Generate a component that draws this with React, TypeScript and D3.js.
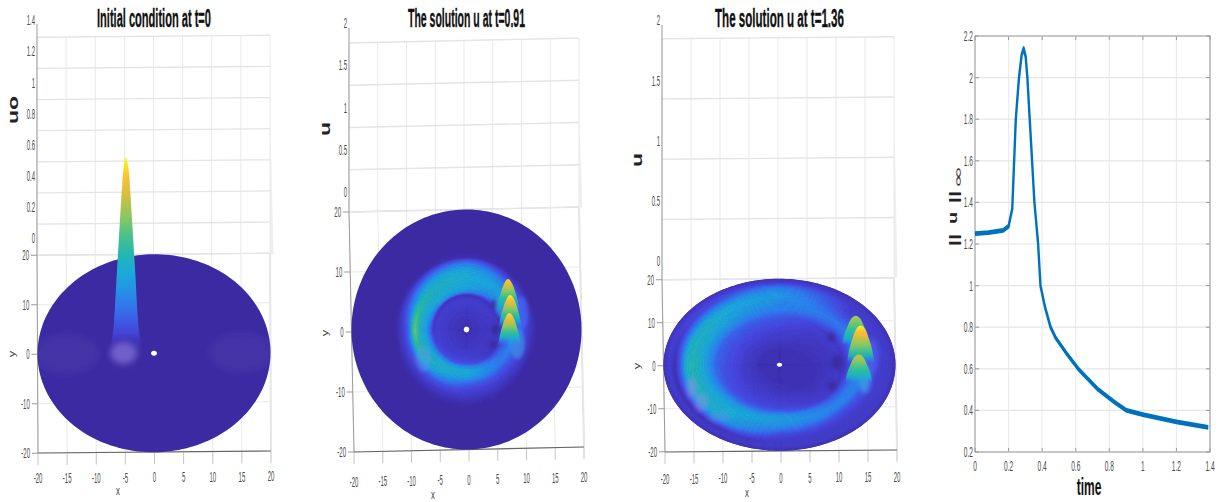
import React from "react";
import * as d3 from "d3";

// ---------- data ----------
const floorTicks = [-20, -15, -10, -5, 0, 5, 10, 15, 20];
const sideTicks = [-20, -10, 0, 10, 20];
const zTicks1 = [0, 0.2, 0.4, 0.6, 0.8, 1, 1.2, 1.4];
const zTicks23 = [0, 0.5, 1, 1.5, 2];

const timeValues = [0, 0.08, 0.167, 0.2, 0.222, 0.243, 0.262, 0.278, 0.29, 0.302, 0.312, 0.326, 0.34, 0.354, 0.376, 0.39, 0.416, 0.45, 0.48, 0.54, 0.615, 0.734, 0.83, 0.903, 1.0, 1.2, 1.39];
const normValues = [1.25, 1.255, 1.265, 1.285, 1.37, 1.8, 2.0, 2.11, 2.14, 2.1, 2.0, 1.8, 1.6, 1.4, 1.2, 1.0, 0.9, 0.8, 0.75, 0.68, 0.6, 0.5, 0.44, 0.4, 0.38, 0.345, 0.318];
const timeTicks = [0, 0.2, 0.4, 0.6, 0.8, 1, 1.2, 1.4];
const normTicks = [0.2, 0.4, 0.6, 0.8, 1, 1.2, 1.4, 1.6, 1.8, 2, 2.2];

const thetaStops = [0, 45, 90, 135, 180, 225, 270, 315];
const radii91 = [0, 3, 5, 5.8, 6.3, 7, 8, 9, 10, 11, 12, 13, 20];
const level91 = [
  [0.03, 0.03, 0.03, 0.03, 0.03, 0.03, 0.03, 0.03],
  [0.06, 0.06, 0.06, 0.06, 0.06, 0.06, 0.06, 0.06],
  [0.05, 0.08, 0.09, 0.09, 0.09, 0.1, 0.1, 0.06],
  [0.05, 0.04, 0.03, 0.04, 0.07, 0.14, 0.16, 0.06],
  [0.07, 0.15, 0.32, 0.34, 0.18, 0.3, 0.33, 0.14],
  [0.14, 0.3, 0.4, 0.43, 0.36, 0.44, 0.44, 0.24],
  [0.27, 0.36, 0.42, 0.46, 0.45, 0.47, 0.36, 0.26],
  [0.22, 0.36, 0.43, 0.48, 0.68, 0.38, 0.18, 0.16],
  [0.13, 0.26, 0.4, 0.38, 0.2, 0.17, 0.11, 0.09],
  [0.06, 0.1, 0.26, 0.18, 0.08, 0.08, 0.07, 0.05],
  [0.01, 0.01, 0.03, 0.02, 0.02, 0.03, 0.03, 0.01],
  [0, 0, 0, 0, 0, 0, 0, 0],
  [0, 0, 0, 0, 0, 0, 0, 0],
];
const radii136 = [0, 3, 6, 8, 10, 11, 12, 13, 14, 15, 16, 17, 18, 19, 20];
const level136 = [
  [0.03, 0.03, 0.03, 0.03, 0.03, 0.03, 0.03, 0.03],
  [0.03, 0.03, 0.03, 0.03, 0.03, 0.03, 0.03, 0.03],
  [0.04, 0.05, 0.07, 0.08, 0.08, 0.07, 0.05, 0.03],
  [0.05, 0.06, 0.1, 0.12, 0.12, 0.1, 0.08, 0.05],
  [0.07, 0.08, 0.14, 0.17, 0.16, 0.14, 0.12, 0.07],
  [0.05, 0.08, 0.17, 0.2, 0.2, 0.22, 0.2, 0.08],
  [0.12, 0.15, 0.22, 0.3, 0.3, 0.36, 0.36, 0.2],
  [0.24, 0.22, 0.27, 0.37, 0.4, 0.42, 0.38, 0.27],
  [0.32, 0.24, 0.3, 0.42, 0.47, 0.43, 0.32, 0.27],
  [0.22, 0.18, 0.33, 0.44, 0.5, 0.44, 0.24, 0.16],
  [0.16, 0.13, 0.35, 0.42, 0.48, 0.42, 0.14, 0.11],
  [0.09, 0.09, 0.33, 0.28, 0.18, 0.22, 0.09, 0.08],
  [0.08, 0.08, 0.25, 0.13, 0.03, 0.04, 0.07, 0.07],
  [0.07, 0.07, 0.09, 0.1, 0.09, 0.07, 0.07, 0.07],
  [0.04, 0.04, 0.04, 0.04, 0.04, 0.04, 0.04, 0.04],
];

const profileLevels = [1, 0.95, 0.85, 0.65, 0.4, 0.15, 0, -0.06, -0.12];
const widths0 = [0.02, 0.4, 0.68, 1.1, 1.6, 2.1, 2.66, 2.3, 1.3];
const widths91 = [0.02, 0.4, 0.72, 1.15, 1.55, 1.85, 2, 1.7, 0.9];
const widths136 = [0.02, 0.55, 0.95, 1.4, 1.9, 2.2, 2.3, 2, 1.1];

const peaks0 = [{ x: -4.8, y: 0, u: 1.26, top: 1, low: 0, fade: 0.05 }];
const peaks91 = [
  { x: 7.3, y: 2.9, u: 0.38, top: 0.93, low: 0.3, fade: 0.25 },
  { x: 7.6, y: 0.2, u: 0.383, top: 1, low: 0.3, fade: 0.25 },
  { x: 7.4, y: -2.8, u: 0.383, top: 0.97, low: 0.3, fade: 0.25 },
];
const peaks136 = [
  { x: 13.2, y: 4.5, u: 0.24, top: 0.76, low: 0.36, fade: 0.22 },
  { x: 14, y: 0.3, u: 0.31, top: 1, low: 0.4, fade: 0.22 },
  { x: 13.6, y: -4.3, u: 0.233, top: 0.8, low: 0.36, fade: 0.22 },
];

const blobs0 = [
  { x: -5.2, y: 0.1, rx: 2.3, ry: 2.2, fill: "#8270d8", o: 0.75 },
  { x: -15, y: 0, rx: 5.5, ry: 4, fill: "#5a50b8", o: 0.22 },
  { x: 15, y: 0, rx: 5.5, ry: 4, fill: "#5a50b8", o: 0.22 },
];
const blobs91 = [
  { x: 5, y: 4.1, rx: 0.6, ry: 0.7, fill: "#3a2a9c", o: 0.9 },
  { x: 5, y: -0.1, rx: 0.6, ry: 0.8, fill: "#3a2a9c", o: 0.9 },
  { x: 4.6, y: -2.6, rx: 0.6, ry: 0.6, fill: "#3a2a9c", o: 0.9 },
  { x: -7.6, y: -4.6, rx: 1.3, ry: 2.2, fill: "#5e9cee", o: 0.4 },
  { x: 8.8, y: -2.5, rx: 1.3, ry: 2.6, fill: "#3a8ee6", o: 0.7 },
  { x: 9.5, y: 2.5, rx: 1.3, ry: 2.8, fill: "#4464ee", o: 0.7 },
  { x: 6.3, y: 4, rx: 1.2, ry: 2, fill: "#2a9ed8", o: 0.7 },
];
const blobs136 = [
  { x: 9, y: 6.3, rx: 0.7, ry: 1.1, fill: "#3a2a9c", o: 0.95 },
  { x: 9.9, y: 0.4, rx: 0.9, ry: 1.8, fill: "#3a2a9c", o: 0.95 },
  { x: 9, y: -5, rx: 0.7, ry: 1.1, fill: "#3a2a9c", o: 0.95 },
  { x: -15.2, y: -5.2, rx: 0.9, ry: 2.4, fill: "#9a90e6", o: 0.5 },
  { x: -13.6, y: -8.6, rx: 1.2, ry: 2.2, fill: "#9a90e6", o: 0.45 },
  { x: -10.5, y: -12, rx: 2, ry: 1.2, fill: "#6a8ee8", o: 0.35 },
  { x: 14.6, y: -3.8, rx: 1, ry: 3, fill: "#3c9ee6", o: 0.8 },
  { x: 16, y: 2, rx: 1.2, ry: 4, fill: "#4c5cec", o: 0.7 },
];

// ---------- styling and layout ----------
const parula = d3
  .scaleLinear<string>()
  .domain([0, 0.12, 0.25, 0.4, 0.55, 0.7, 0.8, 0.88, 0.95, 1])
  .range(["#3c2aa3", "#4747e0", "#2f7cf0", "#1aa8dc", "#28bda0", "#8cc860", "#cfc040", "#fbb93c", "#f5d82a", "#f9fb15"])
  .clamp(true);

const FONT = "'Liberation Sans', Arial, sans-serif";
const TICK = "#4a4a4a";
const GRID = "#e9e9e9";

type Pt = [number, number];
interface Cfg {
  id: string;
  fl: Pt; fr: Pt; bl: Pt; br: Pt;
  zMax: number; zPx: number; zTicks: number[]; zOff: number; zAxisTop: number;
  xLab: number; xName: Pt; yName: Pt; uName: Pt; uText: string;
  title: string; tx0: number; tsx: number;
  hole: number; blobBlur: number; heatBlur: number;
}

const panels: (Cfg & { radii?: number[]; level?: number[][]; peaks: any[]; widths: number[]; blobs: any[] })[] = [
  {
    id: "a", fl: [38, 453], fr: [271, 451], bl: [37, 255], br: [270, 254],
    zMax: 1.4, zPx: 218, zTicks: zTicks1, zOff: -17, zAxisTop: 24,
    xLab: 30, xName: [118, 495], yName: [15, 354], uName: [18, 110], uText: "uo",
    title: "Initial condition at t=0", tx0: 97, tsx: 0.434, hole: 0.5, blobBlur: 3.2, heatBlur: 0.7,
    peaks: peaks0, widths: widths0, blobs: blobs0,
  },
  {
    id: "b", fl: [354, 452], fr: [584, 447], bl: [349, 212], br: [579, 207],
    zMax: 2, zPx: 169, zTicks: zTicks23, zOff: -20, zAxisTop: 28,
    xLab: 35, xName: [433, 499], yName: [328, 333], uName: [330, 129], uText: "u",
    title: "The solution u at t=0.91", tx0: 408, tsx: 0.412, hole: 0.48, blobBlur: 1.6, heatBlur: 0.6,
    radii: radii91, level: level91, peaks: peaks91, widths: widths91, blobs: blobs91,
  },
  {
    id: "c", fl: [665, 452], fr: [897, 450], bl: [662, 280], br: [894, 277],
    zMax: 2, zPx: 241, zTicks: zTicks23, zOff: -18.5, zAxisTop: 25,
    xLab: 32, xName: [747, 497], yName: [640, 366], uName: [642, 160], uText: "u",
    title: "The solution u at t=1.36", tx0: 715, tsx: 0.454, hole: 0.46, blobBlur: 1.9, heatBlur: 0.6,
    radii: radii136, level: level136, peaks: peaks136, widths: widths136, blobs: blobs136,
  },
];

const Txt = (p: { x: number; y: number; s: string; size: number; sx: number; anchor?: string; weight?: any; fill?: string; rot?: number; font?: string; stroke?: number }) => (
  <text
    transform={`translate(${p.x},${p.y}) scale(${p.sx},1)${p.rot ? ` rotate(${p.rot})` : ""}`}
    fontFamily={p.font ?? FONT}
    fontSize={p.size}
    fontWeight={p.weight ?? "normal"}
    textAnchor={p.anchor ?? "middle"}
    fill={p.fill ?? TICK}
    stroke={p.stroke ? p.fill : undefined}
    strokeWidth={p.stroke}
  >
    {p.s}
  </text>
);

const fmt = (v: number) => String(v);

function makeProject(c: Cfg) {
  const ox = (c.fl[0] + c.fr[0] + c.bl[0] + c.br[0]) / 4;
  const oy = (c.fl[1] + c.fr[1] + c.bl[1] + c.br[1]) / 4;
  const exx = d3.scaleLinear().domain([-20, 20]).range([c.fl[0] - c.fr[0], c.fr[0] - c.fl[0]].map((d) => d / 2));
  const exy = d3.scaleLinear().domain([-20, 20]).range([c.fl[1] - c.fr[1], c.fr[1] - c.fl[1]].map((d) => d / 2));
  const eyx = d3.scaleLinear().domain([-20, 20]).range([c.fl[0] - c.bl[0], c.bl[0] - c.fl[0]].map((d) => d / 2));
  const eyy = d3.scaleLinear().domain([-20, 20]).range([c.fl[1] - c.bl[1], c.bl[1] - c.fl[1]].map((d) => d / 2));
  const zs = d3.scaleLinear().domain([0, c.zMax]).range([0, c.zPx]);
  return (x: number, y: number, u = 0): Pt => [ox + exx(x) + eyx(y), oy + exy(x) + eyy(y) - zs(u)];
}

function heatCells(radii: number[], level: number[][]) {
  const lookup = (r: number, th: number) => {
    const i = Math.min(radii.length - 2, Math.max(0, d3.bisectRight(radii, r) - 1));
    const fr = (r - radii[i]) / (radii[i + 1] - radii[i]);
    const n = thetaStops.length;
    const j = Math.floor(th / 45) % n;
    const ft = th / 45 - Math.floor(th / 45);
    const j2 = (j + 1) % n;
    const a = level[i][j] * (1 - ft) + level[i][j2] * ft;
    const b = level[i + 1][j] * (1 - ft) + level[i + 1][j2] * ft;
    return a * (1 - fr) + b * fr;
  };
  const bins = new Map<number, { r: number; th: number }[]>();
  for (let r = 0; r < 20; r += 0.25) {
    for (let th = 0; th < 360; th += 3) {
      const t = lookup(r + 0.125, th + 1.5);
      const k = Math.round(t * 160);
      if (k <= 1) continue;
      if (!bins.has(k)) bins.set(k, []);
      bins.get(k)!.push({ r, th });
    }
  }
  return bins;
}

function Surface({ c }: { c: (typeof panels)[number] }) {
  const P = makeProject(c);
  const circle = (r: number) => {
    const pts = d3.range(0, 360, 2).map((a) => P(r * Math.cos((a * Math.PI) / 180), r * Math.sin((a * Math.PI) / 180)));
    return d3.line().curve(d3.curveLinearClosed)(pts as any) as string;
  };
  const disc = circle(20);
  const rad = Math.PI / 180;
  const cells: { k: number; d: string }[] = [];
  if (c.radii && c.level) {
    heatCells(c.radii, c.level).forEach((list, k) => {
      const d = list
        .map(({ r, th }) => {
          const a = P(r * Math.cos(th * rad), r * Math.sin(th * rad));
          const b = P((r + 0.25) * Math.cos(th * rad), (r + 0.25) * Math.sin(th * rad));
          const e = P((r + 0.25) * Math.cos((th + 3) * rad), (r + 0.25) * Math.sin((th + 3) * rad));
          const f = P(r * Math.cos((th + 3) * rad), r * Math.sin((th + 3) * rad));
          return `M${a[0].toFixed(1)},${a[1].toFixed(1)}L${b[0].toFixed(1)},${b[1].toFixed(1)}L${e[0].toFixed(1)},${e[1].toFixed(1)}L${f[0].toFixed(1)},${f[1].toFixed(1)}Z`;
        })
        .join("");
      cells.push({ k, d });
    });
  }
  const tl: Pt = [c.bl[0], c.bl[1] - c.zPx];
  const tr: Pt = [c.br[0], c.br[1] - c.zPx];
  const peakLine = d3.line().curve(d3.curveCatmullRomClosed.alpha(0.5));
  return (
    <g>
      <defs>
        <filter id={`blur-${c.id}`} x="-10%" y="-10%" width="120%" height="120%">
          <feGaussianBlur stdDeviation={c.heatBlur} />
        </filter>
        <filter id={`blur2-${c.id}`} x="-60%" y="-60%" width="220%" height="220%">
          <feGaussianBlur stdDeviation={c.blobBlur} />
        </filter>
        <clipPath id={`clip-${c.id}`}>
          <path d={disc} />
        </clipPath>
        {c.peaks.map((p, i) => {
          const top = P(p.x, p.y, p.u);
          const base = P(p.x, p.y);
          return (
            <linearGradient key={i} id={`pk-${c.id}-${i}`} gradientUnits="userSpaceOnUse" x1={0} x2={0} y1={top[1]} y2={base[1]}>
              {d3.range(0, 11).map((s) => {
                const f = 1 - s / 10;
                return (
                  <stop
                    key={s}
                    offset={s / 10}
                    stopColor={parula(p.low + (p.top - p.low) * f)}
                    stopOpacity={Math.min(1, f / p.fade)}
                  />
                );
              })}
            </linearGradient>
          );
        })}
      </defs>

      {/* wall */}
      <polygon points={[tr, c.br, [c.br[0] + 3.5, c.br[1] + 1], [tr[0] + 0.5, tr[1] + 90]].map((d) => d.join(",")).join(" ")} fill="#efefef" />
      <line x1={c.br[0]} y1={c.br[1]} x2={c.fr[0]} y2={c.fr[1]} stroke="#e2e2e2" strokeWidth={2} />
      {floorTicks.map((t) => {
        const a = P(t, 20);
        const f = P(t, -20);
        return (
          <g key={t}>
            <line x1={a[0]} y1={a[1]} x2={a[0]} y2={a[1] - c.zPx} stroke={GRID} />
            <line x1={a[0]} y1={a[1]} x2={f[0]} y2={f[1]} stroke={GRID} />
            <line x1={f[0]} y1={f[1]} x2={f[0]} y2={f[1] + 12} stroke="#c4c4c4" />
            <Txt x={f[0]} y={f[1] + c.xLab} s={fmt(t)} size={14} sx={0.43} />
          </g>
        );
      })}
      {c.zTicks.map((u) => {
        const a = P(-20, 20, u);
        const b = P(20, 20, u);
        return (
          <g key={u}>
            <line x1={a[0]} y1={a[1]} x2={b[0]} y2={b[1]} stroke={u === 0 ? "#d8d8d8" : "#e4e4e4"} strokeWidth={1.3} />
            <Txt x={a[0] - 2} y={a[1] + c.zOff + 5} s={fmt(u)} size={14} sx={0.43} anchor="end" />
          </g>
        );
      })}
      {sideTicks.map((t) => {
        const a = P(-20, t);
        const b = P(20, t);
        return (
          <g key={t}>
            <line x1={a[0]} y1={a[1]} x2={b[0]} y2={b[1]} stroke={GRID} />
            <line x1={a[0] - 6} y1={a[1]} x2={a[0]} y2={a[1]} stroke="#999" />
            <Txt x={a[0] - 8} y={a[1] + 5} s={fmt(t)} size={14} sx={0.43} anchor="end" />
          </g>
        );
      })}
      <line x1={tl[0]} y1={c.zAxisTop} x2={c.bl[0]} y2={c.bl[1]} stroke="#9a9a9a" />
      <line x1={c.bl[0]} y1={c.bl[1]} x2={c.fl[0]} y2={c.fl[1]} stroke="#9a9a9a" />
      <line x1={c.fl[0]} y1={c.fl[1]} x2={c.fr[0]} y2={c.fr[1]} stroke="#666" strokeWidth={1.1} />

      {/* surface */}
      <path d={disc} fill={parula(0)} />
      <g clipPath={`url(#clip-${c.id})`}>
        <g filter={`url(#blur-${c.id})`}>
          {cells.map(({ k, d }) => (
            <path key={k} d={d} fill={parula(k / 160)} stroke={parula(k / 160)} strokeWidth={0.5} />
          ))}
        </g>
        <g filter={`url(#blur2-${c.id})`}>
          {c.blobs.slice(c.id === "a" ? 1 : 0).map((b, i) => {
            const p = P(b.x, b.y);
            const e = P(b.x + b.rx, b.y);
            const g = P(b.x, b.y + b.ry);
            return <ellipse key={i} cx={p[0]} cy={p[1]} rx={Math.abs(e[0] - p[0])} ry={Math.abs(g[1] - p[1])} fill={b.fill} opacity={b.o} />;
          })}
        </g>
      </g>
      {c.peaks.map((p, i) => {
        const left = profileLevels.map((f, j) => P(p.x - c.widths[j], p.y, p.u * f));
        const right = profileLevels.map((f, j) => P(p.x + c.widths[j], p.y, p.u * f)).reverse();
        return <path key={i} d={peakLine([...left, ...right.slice(0, -1)] as any) as string} fill={`url(#pk-${c.id}-${i})`} />;
      })}
      {c.id === "a" && (
        <g filter={`url(#blur2-${c.id})`}>
          {c.blobs.slice(0, 1).map((b, i) => {
            const p = P(b.x, b.y);
            const e = P(b.x + b.rx, b.y);
            const g = P(b.x, b.y + b.ry);
            return <ellipse key={i} cx={p[0]} cy={p[1]} rx={Math.abs(e[0] - p[0])} ry={Math.abs(g[1] - p[1])} fill={b.fill} opacity={b.o} />;
          })}
        </g>
      )}
      <path d={circle(c.hole)} fill="#fff" />

      {/* names */}
      <Txt x={c.tx0} y={27} s={c.title} size={25.5} sx={c.tsx} anchor="start" weight="bold" fill="#111" stroke={0.35} />
      <Txt x={c.xName[0]} y={c.xName[1]} s="x" size={13} sx={0.6} fill="#444" />
      <Txt x={c.yName[0]} y={c.yName[1]} s="y" size={13} sx={0.75} fill="#444" rot={-90} />
      <Txt x={c.uName[0]} y={c.uName[1]} s={c.uText} size={23} sx={0.6} weight="bold" fill="#222" rot={-90} />
    </g>
  );
}

function LinePanel() {
  const squeeze = 0.5;
  const x = d3.scaleLinear().domain([0, 1.4]).range([975, 1210]);
  const xWide = d3.scaleLinear().domain([0, 1.4]).range([975 / squeeze, 1210 / squeeze]);
  const y = d3.scaleLinear().domain([0.2, 2.2]).range([452, 36]);
  const line = d3
    .line<number>()
    .x((_, i) => xWide(timeValues[i]))
    .y((d) => y(d))
    .curve(d3.curveLinear);
  return (
    <g>
      {timeTicks.map((t) => (
        <g key={t}>
          <line x1={x(t)} x2={x(t)} y1={36} y2={452} stroke="#ececec" strokeWidth={1.2} />
          <line x1={x(t)} x2={x(t)} y1={36} y2={40} stroke="#999" />
          <line x1={x(t)} x2={x(t)} y1={452} y2={448} stroke="#999" />
          <Txt x={x(t)} y={471} s={fmt(t)} size={14} sx={0.47} />
        </g>
      ))}
      {normTicks.map((v) => (
        <g key={v}>
          <line x1={975} x2={1210} y1={y(v)} y2={y(v)} stroke="#e6e6e6" strokeWidth={1.2} />
          <line x1={975} x2={979} y1={y(v)} y2={y(v)} stroke="#999" />
          <line x1={1210} x2={1206} y1={y(v)} y2={y(v)} stroke="#999" />
          <Txt x={973} y={y(v) + 5} s={fmt(v)} size={14} sx={0.47} anchor="end" />
        </g>
      ))}
      <rect x={975} y={36} width={235} height={416} fill="none" stroke="#999" />
      <g transform={`scale(${squeeze},1)`}>
        <path d={line(normValues) as string} fill="none" stroke="#0072bd" strokeWidth={4.8} strokeLinejoin="round" />
      </g>
      <Txt x={1089} y={495} s="time" size={24} sx={0.5} weight="bold" fill="#111" />
      <Txt x={958} y={240} s="||" size={22} sx={0.6} weight="bold" fill="#222" rot={-90} />
      <Txt x={957} y={218} s="u" size={20} sx={0.6} weight="bold" fill="#222" rot={-90} />
      <Txt x={958} y={197} s="||" size={22} sx={0.6} weight="bold" fill="#222" rot={-90} />
      <Txt x={962} y={177} s="∞" size={28} sx={0.42} fill="#333" rot={-90} font="'DejaVu Sans', sans-serif" />
    </g>
  );
}

export default function App() {
  return (
    <svg width={1218} height={502} viewBox="0 0 1218 502" style={{ position: "absolute", left: 0, top: 0, display: "block", background: "#fff" }}>
      {panels.map((c) => (
        <Surface key={c.id} c={c} />
      ))}
      <LinePanel />
    </svg>
  );
}
